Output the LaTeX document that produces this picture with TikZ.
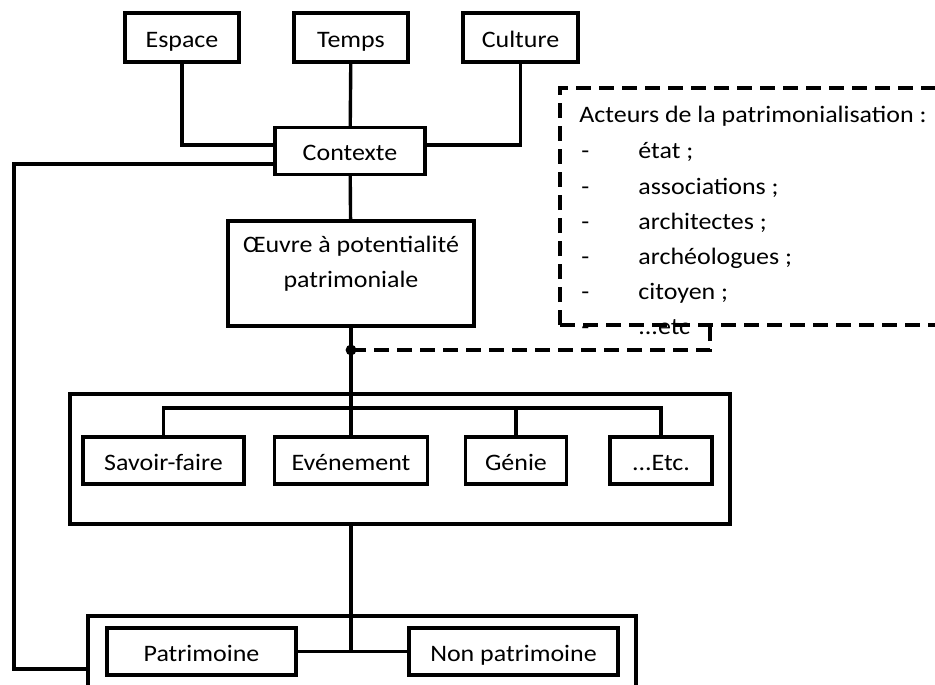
\documentclass[tikz,border=0pt]{standalone}
\usepackage{fontspec}
\setmainfont{Carlito}[FakeStretch=1.1]
\usepackage{tikz}
\usetikzlibrary{calc,positioning}
\tikzset{%
	boite/.style  = {draw, rectangle, line width=1.7pt, inner sep=2pt, text height=11pt, text depth=1.4pt, text centered, font=\fontsize{11.8pt}{17.5pt}\selectfont},
	cadre/.style  = {draw, rectangle, line width=1.7pt},
	liaison/.style= {line width=1.7pt},
	tirets/.style = {line width=1.7pt, dash pattern=on 7.5pt off 4pt},
	texte/.style  = {inner sep=0pt, anchor=west, text height=9pt, text depth=1.4pt, font=\fontsize{11.8pt}{17.5pt}\selectfont},
}
\newcommand{\etcacteurs}{...etc}

\begin{document}
\begin{tikzpicture}[x=0.5pt,y=-0.5pt]
	\useasboundingbox (0,0) rectangle (935,684);
	\clip (0,0) rectangle (935,684);
	
	% contexte
	\node[boite, minimum width=57pt, minimum height=24.5pt] (espace) at (182,37.5) {Espace};
	\node[boite, minimum width=57pt, minimum height=24.5pt] (temps) at (351,37.5) {Temps};
	\node[boite, minimum width=57.5pt, minimum height=24.5pt] (culture) at (520.5,37.5) {Culture};
	\node[boite, minimum width=75pt, minimum height=23.5pt] (contexte) at (350,151) {Contexte};
	
	\draw[liaison] (espace.south) |- ([yshift=3pt]contexte.west);
	\draw[liaison] (temps) -- (contexte);
	\draw[liaison] (culture.south) |- ([yshift=3pt]contexte.east);
	
	% oeuvre
	\node[boite, align=center, text height=, text depth=, minimum width=123pt, minimum height=52.5pt] (oeuvre) at (351,273.5) {Œuvre à potentialité\\patrimoniale\\[-6pt]\mbox{}};
	\draw[liaison] (contexte) -- (oeuvre);
	
	% acteurs
	\draw[tirets] (560,325) -- (560,88) -- (960,88);
	\draw[tirets] (560,325) -- (960,325);
	\node[texte] (titre) at (579,115) {Acteurs de la patrimonialisation :};
	\foreach \t [count=\i] in {état ;,associations ;,architectes ;,archéologues ;,citoyen ;,\etcacteurs} {
		\node[texte] (tiret\i) at (581,116+35.2*\i) {-};
		\node[texte] (acteur\i) at (638,116+35.2*\i) {\t};
	}
	
	% groupe
	\node[cadre, minimum width=330pt, minimum height=65pt] (groupe) at (400,459) {};
	\node[boite, minimum width=80.5pt, minimum height=23.5pt] (savoir) at (163.5,460.5) {Savoir-faire};
	\node[boite, minimum width=76.5pt, minimum height=23.5pt] (evenement) at (351,460.5) {Evénement};
	\node[boite, minimum width=50.5pt, minimum height=23.5pt] (genie) at (516,460.5) {Génie};
	\node[boite, minimum width=51pt, minimum height=23.5pt] (etc) at (661,460.5) {...Etc.};
	\coordinate (bus) at (351,408);
	\draw[liaison] (savoir.north) |- (bus) -| (etc.north);
	\draw[liaison] (genie.north) -- (genie.north |- bus);
	\draw[liaison] (oeuvre.south) -- (evenement.north);
	
	\coordinate (jonction) at (351,350);
	\coordinate (renvoi) at (710,325);
	\draw[tirets] (jonction) -| (renvoi);
	\fill (jonction) circle (2.7pt);
	
	% statut
	\node[cadre, minimum width=274pt, minimum height=60pt] (statut) at (362,676) {};
	\node[boite, minimum width=94.5pt, minimum height=23.5pt] (patrimoine) at (201.5,651.5) {Patrimoine};
	\node[boite, minimum width=104.5pt, minimum height=23.5pt] (nonpatrimoine) at (513.5,651.5) {Non patrimoine};
	\draw[liaison] (patrimoine) -- (nonpatrimoine);
	\draw[liaison] (groupe.south -| evenement) -- (evenement |- patrimoine);
	
	\coordinate (coin) at (14,669);
	\draw[liaison] ([yshift=-6.5pt]contexte.west) -| (coin) -- (statut.west |- coin);
\end{tikzpicture}
\end{document}
